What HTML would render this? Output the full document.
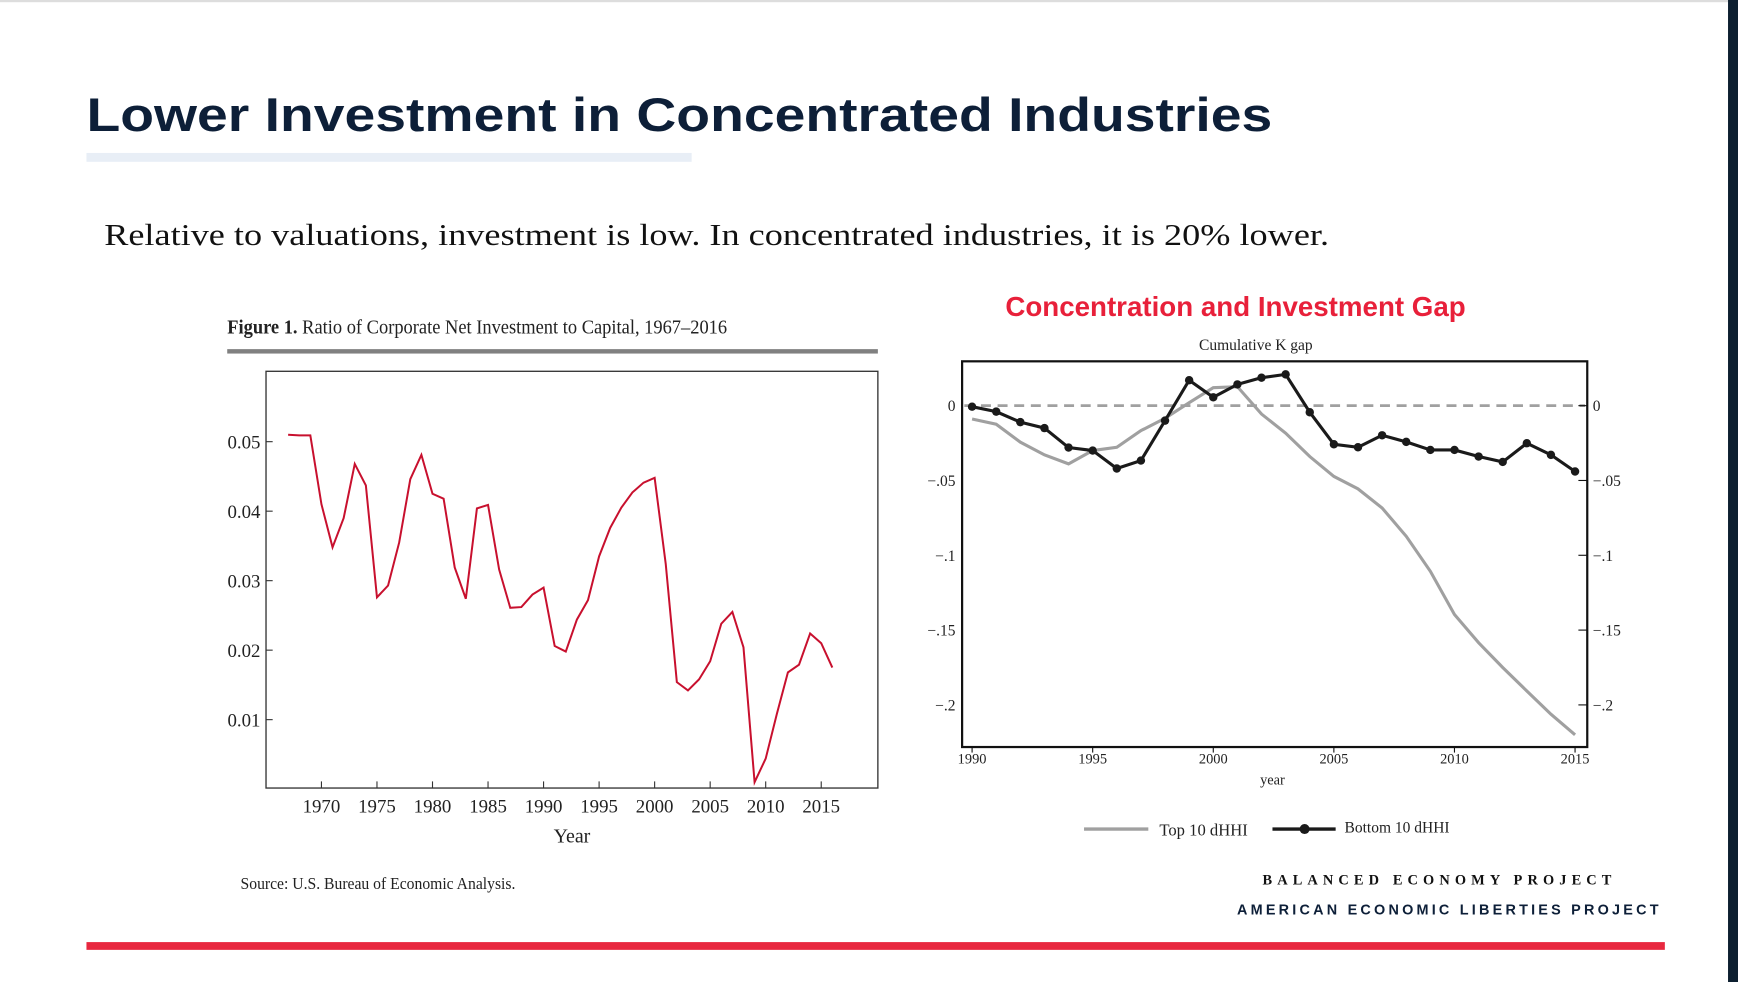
<!DOCTYPE html>
<html><head><meta charset="utf-8"><style>
html,body{margin:0;padding:0;background:#fff;overflow:hidden}
#wrap{position:absolute;left:0;top:0;width:1568px;height:886px;transform:scale(1.10842,1.10835);transform-origin:0 0;background:#fff}
.abs{position:absolute;white-space:nowrap}
svg text{font-family:"Liberation Serif",serif}
</style></head><body>
<div id="wrap">
<div class="abs" style="left:0;top:0;width:1568px;height:2px;background:#ddd"></div>
<div class="abs" style="left:78px;top:80px;font:bold 43px 'Liberation Sans',sans-serif;color:#0d1f38;transform:scaleX(1.16);transform-origin:0 0">Lower Investment in Concentrated Industries</div>
<div class="abs" style="left:78px;top:138px;width:546px;height:8px;background:#e8eef6"></div>
<div class="abs" style="left:94px;top:197px;font:28px 'Liberation Serif',serif;color:#111;transform:scaleX(1.167);transform-origin:0 0">Relative to valuations, investment is low. In concentrated industries, it is 20% lower.</div>
<div class="abs" style="left:907px;top:263px;font:bold 25px 'Liberation Sans',sans-serif;color:#e8203a">Concentration and Investment Gap</div>
<div class="abs" style="left:1139px;top:786px;font:bold 13px 'Liberation Serif',serif;letter-spacing:4.6px;color:#111">BALANCED ECONOMY PROJECT</div>
<div class="abs" style="left:1116px;top:813px;font:bold 13px 'Liberation Sans',sans-serif;letter-spacing:2.9px;color:#0d1f38">AMERICAN ECONOMIC LIBERTIES PROJECT</div>
<div class="abs" style="left:78px;top:850px;width:1424px;height:7px;background:#e8283f"></div>
<div class="abs" style="left:1559px;top:0;width:9px;height:886px;background:#0d1f30"></div>
<svg id="chart" class="abs" style="left:0;top:0" width="1568" height="886"></svg>
</div>
<script>
const leftYears=[1967,1968,1969,1970,1971,1972,1973,1974,1975,1976,1977,1978,1979,1980,1981,1982,1983,1984,1985,1986,1987,1988,1989,1990,1991,1992,1993,1994,1995,1996,1997,1998,1999,2000,2001,2002,2003,2004,2005,2006,2007,2008,2009,2010,2011,2012,2013,2014,2015,2016];
const leftValues=[.051,.0509,.0509,.041,.0348,.039,.0468,.0437,.0276,.0293,.0355,.0446,.0481,.0425,.0418,.0319,.0274,.0404,.0409,.0316,.0261,.0262,.028,.029,.0206,.0198,.0244,.0272,.0335,.0376,.0405,.0427,.0441,.0448,.0324,.0154,.0142,.0158,.0184,.0238,.0255,.0204,.0010,.0044,.0108,.0168,.0179,.0224,.021,.0175];
const leftYTicks=[0.01,0.02,0.03,0.04,0.05];
const leftYLabels=["0.01","0.02","0.03","0.04","0.05"];
const leftXTicks=[1970,1975,1980,1985,1990,1995,2000,2005,2010,2015];
const rightYears=[1990,1991,1992,1993,1994,1995,1996,1997,1998,1999,2000,2001,2002,2003,2004,2005,2006,2007,2008,2009,2010,2011,2012,2013,2014,2015];
const topValues=[-.0089,-.0124,-.0244,-.0329,-.0389,-.030,-.0278,-.0167,-.0084,.002,.012,.0127,-.0056,-.0184,-.034,-.0473,-.0556,-.0684,-.0873,-.1107,-.1396,-.1584,-.175,-.1907,-.2062,-.22];
const bottomValues=[-.0007,-.004,-.011,-.015,-.028,-.030,-.042,-.0367,-.010,.017,.0056,.0142,.0187,.0209,-.0044,-.0258,-.0278,-.0198,-.0242,-.0296,-.0296,-.034,-.0376,-.0251,-.0329,-.044];
const rightYTicks=[0,-.05,-.1,-.15,-.2];
const rightYLabels=["0","\u2212.05","\u2212.1","\u2212.15","\u2212.2"];
const rightXTicks=[1990,1995,2000,2005,2010,2015];

const svg=document.getElementById('chart');
const NS='http://www.w3.org/2000/svg';
function mk(tag,attrs,parent,text){const e=document.createElementNS(NS,tag);for(const k in attrs)e.setAttribute(k,attrs[k]);if(text!==undefined)e.textContent=text;(parent||svg).appendChild(e);return e;}

// LEFT CHART
const lx=y=>290+(y-1970)*10.02;
const ly=v=>712-v*6270;
let g=mk('g',{});


let t=mk('text',{x:205,y:301,'font-size':18,fill:'#222',textLength:451,lengthAdjust:'spacingAndGlyphs'},g,'');
t.innerHTML='<tspan font-weight="bold">Figure 1.</tspan>  Ratio of Corporate Net Investment to Capital, 1967\u20132016';


let r=mk('rect',{x:205,y:315,width:587,height:4,fill:'#808080'},g);


r=mk('rect',{x:240,y:335,width:552,height:376,fill:'none',stroke:'#333','stroke-width':1.2},g);


leftYTicks.forEach((v,i)=>{
  let l=mk('line',{x1:240,x2:246,y1:ly(v),y2:ly(v),stroke:'#333'},g);
  
  
  let tx=mk('text',{x:235,y:ly(v)+6,'font-size':17,'text-anchor':'end',fill:'#222'},g,leftYLabels[i]);
  
  
});
leftXTicks.forEach(y=>{
  let l=mk('line',{x1:lx(y),x2:lx(y),y1:711,y2:705,stroke:'#333'},g);
  
  
  let tx=mk('text',{x:lx(y),y:733,'font-size':17,'text-anchor':'middle',fill:'#222'},g,String(y));
  
  
});
t=mk('text',{x:516,y:760,'font-size':18,'text-anchor':'middle',fill:'#222'},g,'Year');


let p=mk('polyline',{points:leftYears.map((y,i)=>lx(y)+','+ly(leftValues[i])).join(' '),fill:'none',stroke:'#c8102e','stroke-width':1.8},g);


t=mk('text',{x:217,y:802,'font-size':15,fill:'#222',textLength:248,lengthAdjust:'spacingAndGlyphs'},g,'Source: U.S. Bureau of Economic Analysis.');



// RIGHT CHART
const rx=y=>877+(y-1990)*21.76;
const ry=v=>366-v*1350;
g=mk('g',{});


t=mk('text',{x:1133,y:316,'font-size':14,'text-anchor':'middle',fill:'#222'},g,'Cumulative K gap');


r=mk('rect',{x:868,y:326,width:564,height:348,fill:'none',stroke:'#111','stroke-width':2},g);


let z=mk('line',{x1:870,x2:1430,y1:ry(0),y2:ry(0),stroke:'#a0a0a0','stroke-width':2.5,'stroke-dasharray':'9,6'},g);


rightYTicks.forEach((v,i)=>{
  let l=mk('line',{x1:1424,x2:1432,y1:ry(v),y2:ry(v),stroke:'#111'},g);
  
  
  let tx=mk('text',{x:862,y:ry(v)+5,'font-size':14,'text-anchor':'end',fill:'#222'},g,rightYLabels[i]);
  
  
  tx=mk('text',{x:1437,y:ry(v)+5,'font-size':14,fill:'#222'},g,rightYLabels[i]);
  
  
});
rightXTicks.forEach(y=>{
  let l=mk('line',{x1:rx(y),x2:rx(y),y1:674,y2:679,stroke:'#111'},g);
  
  
  let tx=mk('text',{x:rx(y),y:689,'font-size':13,'text-anchor':'middle',fill:'#222'},g,String(y));
  
  
});
t=mk('text',{x:1148,y:708,'font-size':13,'text-anchor':'middle',fill:'#222'},g,'year');


p=mk('polyline',{points:rightYears.map((y,i)=>rx(y)+','+ry(topValues[i])).join(' '),fill:'none',stroke:'#a0a0a0','stroke-width':2.8},g);


p=mk('polyline',{points:rightYears.map((y,i)=>rx(y)+','+ry(bottomValues[i])).join(' '),fill:'none',stroke:'#1a1a1a','stroke-width':2.8},g);


rightYears.forEach((y,i)=>{
  let c=mk('circle',{cx:rx(y),cy:ry(bottomValues[i]),r:3.8,fill:'#1a1a1a'},g);
  
  
});
let l=mk('line',{x1:978,x2:1036,y1:748,y2:748,stroke:'#a0a0a0','stroke-width':3},g);


t=mk('text',{x:1046,y:754,'font-size':15,fill:'#222'},g,'Top 10 dHHI');


l=mk('line',{x1:1148,x2:1205,y1:748,y2:748,stroke:'#1a1a1a','stroke-width':3},g);


let c=mk('circle',{cx:1177,cy:748,r:4.5,fill:'#1a1a1a'},g);


t=mk('text',{x:1213,y:751,'font-size':14,fill:'#222'},g,'Bottom 10 dHHI');


</script>
</body></html>
